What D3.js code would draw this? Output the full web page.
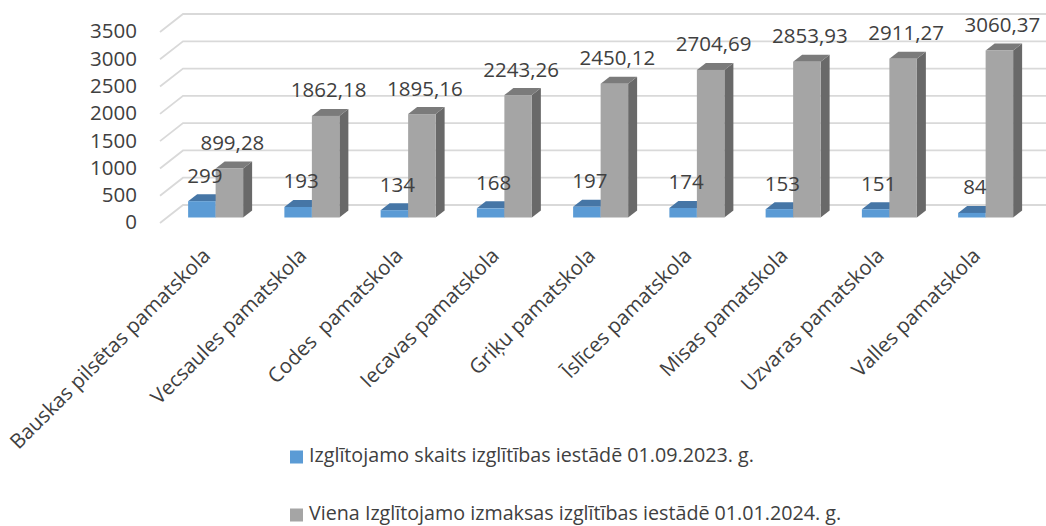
<!DOCTYPE html>
<html>
<head>
<meta charset="utf-8">
<script src="https://cdn.jsdelivr.net/npm/d3@7"></script>
<style>
  body { margin: 0; background: #fff; }
  text { font-family: "Open Sans", sans-serif; fill: #404040; white-space: pre; }
</style>
</head>
<body>
<svg id="chart" width="1046" height="526"></svg>
<script>
// dati
var categories = ["Bauskas pilsētas pamatskola", "Vecsaules pamatskola", "Codes  pamatskola",
  "Iecavas pamatskola", "Griķu pamatskola", "Īslīces pamatskola", "Misas pamatskola",
  "Uzvaras pamatskola", "Valles pamatskola"];
var skaits = [299, 193, 134, 168, 197, 174, 153, 151, 84];
var izmaksas = [899.28, 1862.18, 1895.16, 2243.26, 2450.12, 2704.69, 2853.93, 2911.27, 3060.37];
var seriesNames = ["Izglītojamo skaits izglītības iestādē 01.09.2023. g.",
  "Viena Izglītojamo izmaksas izglītības iestādē 01.01.2024. g."];
var yTicks = [0, 500, 1000, 1500, 2000, 2500, 3000, 3500];

var colors = [
  { front: "#5b9bd5", top: "#4676a6", side: "#3f6c98" },
  { front: "#a5a5a5", top: "#7b7b7b", side: "#696969" }
];

var svg = d3.select("#chart");

// 3d iestatījumi
var wallDx = 23, wallDy = -18;   // dziļums sienai
var barDx = 9, barDy = -7;       // stabiņa dziļums

// aizmugurējās sienas skala
var yWall = d3.scaleLinear().domain([0, 3500]).range([205, 14]);
// stabiņu skala (stabiņi stāv nedaudz priekšā sienai)
var yBar = d3.scaleLinear().domain([0, 3500]).range([217.5, 26.5]);

var x0 = d3.scaleBand().domain(categories).range([167.5, 1033.75])
  .paddingInner(0.4286).paddingOuter(0.2143);
var x1 = d3.scaleBand().domain([0, 1]).range([0, x0.bandwidth()]);

// režģa līnijas
var grid = svg.append("g");
yTicks.forEach(function(t) {
  var y = yWall(t);
  grid.append("path")
    .attr("d", "M" + (160) + "," + (y - wallDy) + "L" + (160 + wallDx) + "," + y + "L1046," + y)
    .attr("fill", "none")
    .attr("stroke", "#d9d9d9")
    .attr("stroke-width", 1.8);
});

// y ass
svg.append("g").selectAll("text")
  .data(yTicks)
  .enter().append("text")
    .attr("x", 137)
    .attr("y", function(d) { return yWall(d) - wallDy + 1; })
    .attr("text-anchor", "end")
    .attr("dominant-baseline", "middle")
    .style("font-size", "20.5px")
    .text(function(d) { return d; });

// stabiņi
var bars = svg.append("g");
var labelData = [];
categories.forEach(function(c, i) {
  [skaits[i], izmaksas[i]].forEach(function(v, s) {
    var xl = x0(c) + x1(s), xr = xl + x1.bandwidth();
    var yb = yBar(0), yt = yBar(v);
    var col = colors[s];
    // sāns
    bars.append("path")
      .attr("d", "M" + xr + "," + yb + "L" + (xr + barDx) + "," + (yb + barDy) +
        "L" + (xr + barDx) + "," + (yt + barDy) + "L" + xr + "," + yt + "Z")
      .attr("fill", col.side);
    // augša
    bars.append("path")
      .attr("d", "M" + xl + "," + yt + "L" + xr + "," + yt + "L" + (xr + barDx) + "," + (yt + barDy) +
        "L" + (xl + barDx) + "," + (yt + barDy) + "Z")
      .attr("fill", col.top);
    // priekša
    bars.append("rect")
      .attr("x", xl)
      .attr("y", yt)
      .attr("width", xr - xl)
      .attr("height", yb - yt)
      .attr("fill", col.front);
    labelData.push({ x: (xl + xr) / 2 + 3, y: yt, v: v });
  });
});

// vērtību etiķetes
svg.append("g").selectAll("text")
  .data(labelData)
  .enter().append("text")
    .attr("x", function(d) { return d.x; })
    .attr("y", function(d) { return d.y - 24; })
    .attr("text-anchor", "middle")
    .attr("dominant-baseline", "middle")
    .style("font-size", "20.5px")
    .text(function(d) { return Number.isInteger(d.v) ? d.v : d.v.toFixed(2).replace(".", ","); });

// kategoriju nosaukumi
svg.append("g").selectAll("text")
  .data(categories)
  .enter().append("text")
    .attr("transform", function(d) {
      return "translate(" + (x0(d) + x0.bandwidth() / 2 - 4) + ",257) rotate(-45)";
    })
    .attr("text-anchor", "end")
    .style("font-size", "20.5px")
    .text(function(d) { return d; });

// leģenda
var legend = svg.append("g");
seriesNames.forEach(function(name, s) {
  var ly = 457 + s * 58;
  legend.append("rect")
    .attr("x", 290).attr("y", ly - 6.5)
    .attr("width", 13).attr("height", 13)
    .attr("fill", colors[s].front);
  legend.append("text")
    .attr("x", 309).attr("y", ly)
    .attr("dominant-baseline", "middle")
    .style("font-size", "19.7px")
    .text(name);
});
</script>
</body>
</html>
